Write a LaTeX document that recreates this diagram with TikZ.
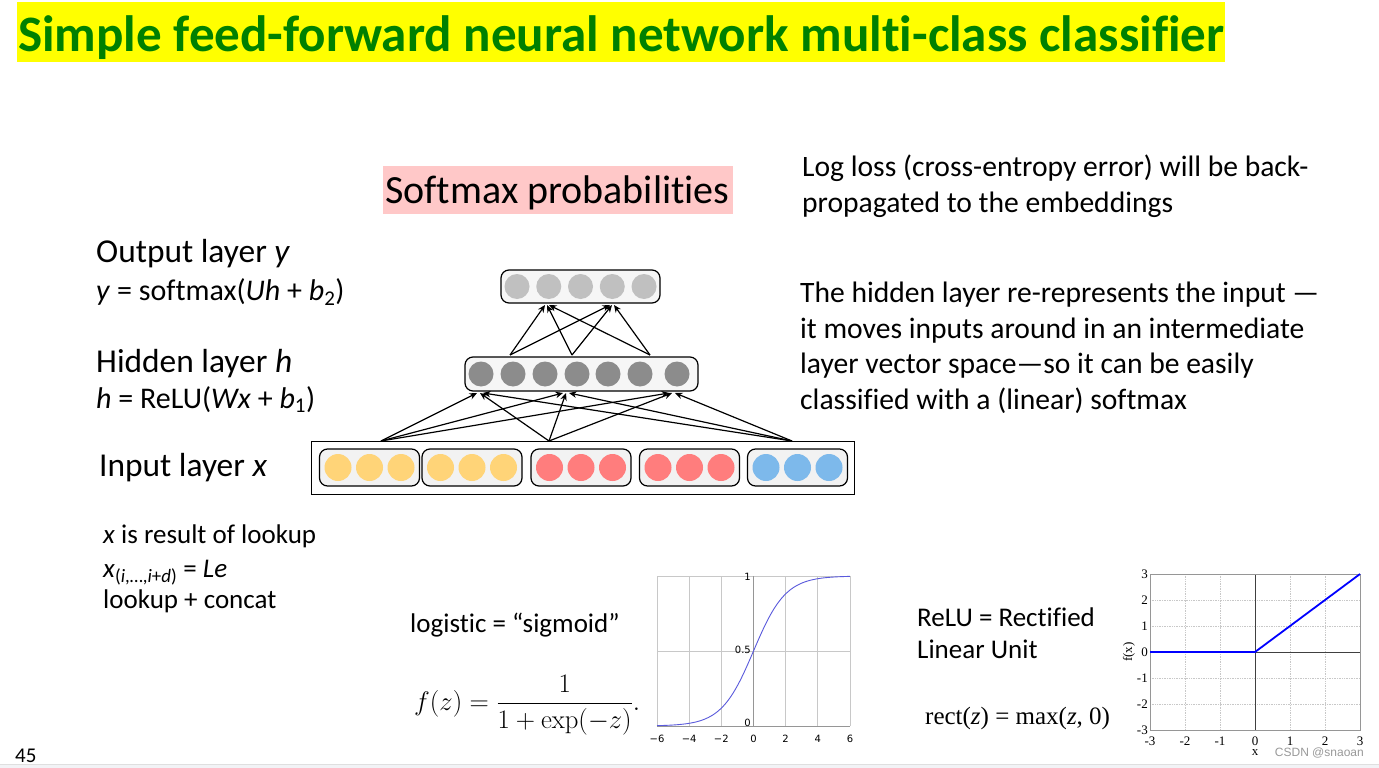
\documentclass[tikz,border=0pt]{standalone}
\usepackage[no-math]{fontspec}
\setmainfont{Carlito}[Ligatures={NoCommon}]
\newfontfamily\serifT{Liberation Serif}
\newfontfamily\dejavu{DejaVu Sans}
\newfontfamily\liber{Liberation Sans}
\usetikzlibrary{arrows.meta,calc}
\definecolor{titlegreen}{RGB}{0,128,0}
\definecolor{titleyellow}{RGB}{255,255,0}
\definecolor{pinkbg}{RGB}{255,200,200}
\definecolor{outgray}{RGB}{192,192,192}
\definecolor{hidgray}{RGB}{140,140,140}
\definecolor{inyellow}{RGB}{255,212,120}
\definecolor{inred}{RGB}{255,125,125}
\definecolor{inblue}{RGB}{125,185,235}
\definecolor{sigblue}{RGB}{90,90,220}
\definecolor{gridgray}{RGB}{200,200,200}
\definecolor{framegray}{RGB}{150,150,150}
\definecolor{stripgray}{RGB}{242,243,246}
\tikzset{
  layerbox/.style={draw=black, line width=1.2pt, rounded corners=8pt, fill=gray!7, inner sep=0pt},
  groupbox/.style={draw=black, line width=1.2pt, rounded corners=8pt, fill=gray!10, inner sep=0pt},
  neuron/.style={circle, inner sep=0pt, minimum size=#1},
  conn/.style={-{Stealth[length=7.5pt,width=6.5pt]}, line width=1.2pt},
  txt/.style={anchor=base west, inner sep=0pt},
  tick/.style={inner sep=0pt, font=\dejavu\fontsize{10}{12}\selectfont},
  rtick/.style={inner sep=0pt, font=\serifT\fontsize{13}{15}\selectfont},
}
\begin{document}
\begin{tikzpicture}[x=1pt,y=-1pt]
\useasboundingbox (0,0) rectangle (1379,768);
\fill[white] (0,0) rectangle (1379,768);

% title
\fill[titleyellow] (17,2) rectangle (1225,62);
\node[txt, font=\fontsize{51.1}{60}\selectfont\bfseries, text=titlegreen] (title) at (18,52) {Simple feed-forward neural network multi-class classifier};

% softmax label
\fill[pinkbg] (383,166) rectangle (733,214);
\node[txt, font=\fontsize{40}{48}\selectfont] (softmax) at (385,203) {Softmax probabilities};

% left labels
\node[txt, font=\fontsize{33.4}{40}\selectfont] (lout) at (96,262) {Output layer \textit{y}};
\node[txt, font=\fontsize{30}{36}\selectfont] (lyeq) at (96,300) {\textit{y} = softmax(\textit{Uh} + \textit{b}\textsubscript{2})};
\node[txt, font=\fontsize{33.4}{40}\selectfont] (lhid) at (96,372) {Hidden layer \textit{h}};
\node[txt, font=\fontsize{30}{36}\selectfont] (lheq) at (96,408) {\textit{h} = ReLU(\textit{Wx} + \textit{b}\textsubscript{1})};
\node[txt, font=\fontsize{33.4}{40}\selectfont] (lin) at (99,476) {Input layer \textit{x}};
\node[txt, font=\fontsize{27}{32}\selectfont] (lk1) at (103,543) {\textit{x} is result of lookup};
\node[txt, font=\fontsize{27}{32}\selectfont] (lk2) at (103,577) {\textit{x}\textsubscript{(\textit{i},…,\textit{i}+\textit{d})} = \textit{Le}};
\node[txt, font=\fontsize{27}{32}\selectfont] (lk3) at (103,608) {lookup + concat};

% right paragraphs
\node[txt, font=\fontsize{29.6}{35}\selectfont] (pa1) at (802,176) {Log loss (cross-entropy error) will be back-};
\node[txt, font=\fontsize{29.6}{35}\selectfont] (pa2) at (802,212) {propagated to the embeddings};
\node[txt, font=\fontsize{29.6}{35}\selectfont] (pb1) at (800,302) {The hidden layer re-represents the input —};
\node[txt, font=\fontsize{29.6}{35}\selectfont] (pb2) at (800,338) {it moves inputs around in an intermediate};
\node[txt, font=\fontsize{29.6}{35}\selectfont] (pb3) at (800,373) {layer vector space—so it can be easily};
\node[txt, font=\fontsize{29.6}{35}\selectfont] (pb4) at (800,409) {classified with a (linear) softmax};

% network: output layer
\node[layerbox, minimum width=159pt, minimum height=33pt] (outbox) at (580.5,286.5) {};
\foreach \i/\xx in {1/517,2/548.75,3/580.5,4/612.25,5/644}
  \node[neuron=25pt, fill=outgray] (o\i) at (\xx,286.5) {};
% hidden layer
\node[layerbox, minimum width=233pt, minimum height=34pt] (hidbox) at (581.5,374) {};
\foreach \i/\xx in {1/481,2/513,3/545,4/577,5/608,6/640,7/677}
  \node[neuron=25pt, fill=hidgray] (h\i) at (\xx,374) {};
% input layer
\node[draw=black, line width=1pt, fill=white, minimum width=543pt, minimum height=53pt, inner sep=0pt] (inbox) at (582.5,467.5) {};
\foreach \g/\cx/\col in {1/369.5/inyellow,2/472/inyellow,3/581/inred,4/689.5/inred,5/797.5/inblue}{
  \node[groupbox, minimum width=100pt, minimum height=37pt] (g\g) at (\cx,467.5) {};
  \foreach \k in {1,2,3}
    \node[neuron=27pt, fill=\col] (g\g n\k) at ({\cx+31.5*(\k-2)},467.5) {};
}

% connector points
\coordinate (s1) at (381,441);
\coordinate (s2) at (549,441);
\coordinate (s3) at (792,441);
\coordinate (t1) at (480,393);
\coordinate (t2) at (566,393);
\coordinate (t3) at (672,393);
\coordinate (u1) at (510,355);
\coordinate (u2) at (572,355);
\coordinate (u3) at (650,355);
\coordinate (v1) at (547,305);
\coordinate (v2) at (612,305);

\foreach \t in {t1,t2,t3}{
  \draw[conn] (s1) -- ([xshift=-3pt]\t);
  \draw[conn] (s2) -- (\t);
  \draw[conn] (s3) -- ([xshift=3pt]\t);
}
\foreach \v in {v1,v2}{
  \draw[conn] (u1) -- ([xshift=-2pt]\v);
  \draw[conn] (u2) -- (\v);
  \draw[conn] (u3) -- ([xshift=2pt]\v);
}

% sigmoid text and formula
\node[txt, font=\fontsize{27}{32}\selectfont] (logi) at (410,632) {logistic = “sigmoid”};
\node[anchor=west, inner sep=0pt, font=\fontsize{24.88}{30}\selectfont] (sigf) at (414,705) {\scalebox{1.075}{$\displaystyle f(z) = \frac{1}{1+\exp(-z)}.$}};

% sigmoid plot
\begin{scope}
  \foreach \xv in {-6,-4,-2,0,2,4,6}
    \draw[gridgray, line width=0.8pt] ({753.5+16.083*\xv},576) -- ({753.5+16.083*\xv},726);
  \foreach \yv in {576,651,726}
    \draw[gridgray, line width=0.8pt] (657,\yv) -- (850,\yv);
  \draw[framegray, line width=0.8pt] (753.5,576) -- (753.5,726);
  \draw[framegray, line width=0.8pt] (657,726) -- (850,726);
  \draw[sigblue, line width=0.9pt] plot[domain=-6:6, samples=120, smooth] ({753.5+16.083*\x},{726-150/(1+exp(-\x))});
  \foreach \xv/\lab in {-6/−6,-4/−4,-2/−2,0/0,2/2,4/4,6/6}
    \node[tick] (sx\xv) at ({753.5+16.083*\xv},739) {\lab};
  \node[tick, anchor=east] (sy1) at (751,577) {1};
  \node[tick, anchor=east] (sy2) at (751,650) {0.5};
  \node[tick, anchor=east] (sy3) at (751,723) {0};
\end{scope}

% ReLU text and formula
\node[txt, font=\fontsize{27}{32}\selectfont] (relu1) at (917,626) {ReLU = Rectified};
\node[txt, font=\fontsize{27}{32}\selectfont] (relu2) at (917,658) {Linear Unit};
\node[txt, font=\serifT\fontsize{25}{30}\selectfont] (relf) at (925,724) {rect(\textit{z}) = max(\textit{z}, 0)};

% ReLU plot
\begin{scope}
  \foreach \xv in {-2,-1,1,2}
    \draw[gridgray, densely dotted, line width=0.7pt] ({1255+35*\xv},574) -- ({1255+35*\xv},730);
  \foreach \yv in {-2,-1,1,2}
    \draw[gridgray, densely dotted, line width=0.7pt] (1150,{652-26*\yv}) -- (1360,{652-26*\yv});
  \draw[black!75, line width=0.8pt] (1255,574) -- (1255,730);
  \draw[black!75, line width=0.8pt] (1150,652) -- (1360,652);
  \draw[framegray, line width=0.8pt] (1150,574) rectangle (1360,730);
  \draw[blue, line width=1.8pt] (1150,652) -- (1255,652) -- (1360,574);
  \foreach \v in {-3,...,3}{
    \node[rtick, anchor=east] (ry\v) at (1148,{652-26*\v}) {\v};
    \node[rtick] (rx\v) at ({1255+35*\v},741) {\v};
  }
  \node[rtick] (rxl) at (1255,753) {x};
  \node[rtick, rotate=90] (ryl) at (1129,652) {f(x)};
  \node[inner sep=0pt, anchor=east, text=black!40, font=\liber\fontsize{12}{14}\selectfont] (wm) at (1364,753) {CSDN @snaoan};
\end{scope}

% bottom strip and page number
\fill[stripgray] (0,764) rectangle (1379,768);
\draw[gray!25, line width=0.8pt] (0,764) -- (1379,764);
\node[txt, font=\fontsize{21}{25}\selectfont] (pnum) at (15,762.5) {45};
\end{tikzpicture}
\end{document}
